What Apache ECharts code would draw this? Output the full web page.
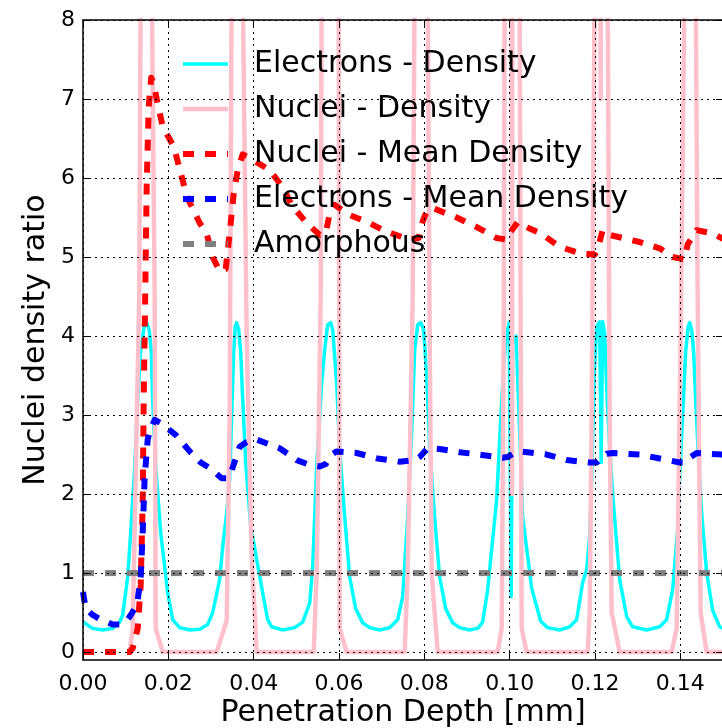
<!DOCTYPE html>
<html><head><meta charset="utf-8">
<script src="https://cdn.jsdelivr.net/npm/echarts@6/dist/echarts.min.js"></script>
<style>html,body{margin:0;padding:0;background:#fff;}#c{width:722px;height:728px;}</style>
</head><body><div id="c"></div>
<script>
const FONT = 'DejaVu Sans';
const seriesNames = ['Electrons - Density', 'Nuclei - Density', 'Nuclei - Mean Density', 'Electrons - Mean Density', 'Amorphous'];
const xTickStep = 0.02;
const yTickStep = 1;

// [depth (mm), ratio]
const electronDensity = [
[0,0.38],[0.002273,0.30],[0.004617,0.28],[0.006960,0.30],[0.008601,0.38],[0.009304,0.47],[0.010476,0.95],[0.011179,1.51],[0.012116,2.35],[0.012820,3.19],[0.013523,3.83],[0.014343,4.12],[0.014929,4.17],[0.015515,4.08],[0.015983,3.83],[0.016335,3.19],[0.017038,2.35],[0.018210,1.51],[0.019850,0.75],[0.021022,0.41],[0.022663,0.31],[0.025006,0.28],[0.027350,0.29],
[0.029225,0.35],[0.030396,0.50],[0.032037,0.92],[0.032740,1.33],[0.033678,1.76],[0.034381,2.19],[0.034849,3.0],[0.035318,3.8],[0.035670,4.12],[0.036021,4.17],[0.036490,4.08],[0.036959,3.8],[0.037427,3.2],[0.038130,2.4],[0.039302,1.6],[0.040708,1.17],[0.042115,0.75],[0.043286,0.41],[0.044224,0.32],[0.046802,0.28],[0.049613,0.31],[0.051489,0.38],
[0.053129,0.62],[0.053832,1.08],[0.054770,2.35],[0.055942,3.4],[0.056645,3.83],[0.057348,4.14],[0.058051,4.17],[0.058520,4.08],[0.059457,3.4],[0.060160,2.56],[0.061332,1.71],[0.062504,0.95],[0.063910,0.55],[0.065550,0.37],[0.067191,0.31],[0.069535,0.28],[0.071878,0.31],[0.073753,0.41],[0.074925,0.70],
[0.076097,1.71],[0.077034,2.77],[0.077737,3.83],[0.078440,4.14],[0.079143,4.17],[0.079846,4.08],[0.080550,3.5],[0.081253,2.6],[0.082424,1.7],[0.083596,0.95],[0.085002,0.55],[0.086643,0.37],[0.088283,0.31],[0.090627,0.28],[0.092502,0.30],[0.093674,0.38],
[0.094845,0.79],[0.095783,1.30],[0.096955,1.93],[0.097658,2.69],[0.098361,3.40],[0.099064,3.95],[0.099884,4.17],[0.100353,0.70],[0.100705,3.90],[0.101524,4.00],[0.102345,2.77],[0.103048,1.71],[0.105157,0.81],[0.107267,0.39],[0.108907,0.31],[0.111719,0.28],[0.114063,0.32],[0.115703,0.41],
[0.117110,0.88],[0.118047,1.05],[0.118750,1.46],[0.119219,2.18],[0.119805,3.50],[0.120390,4.12],[0.121094,4.18],[0.121445,2.40],[0.121797,4.18],[0.122265,4.04],[0.122851,3.20],[0.123437,2.60],[0.124140,2.00],[0.125781,0.92],[0.127421,0.45],[0.128828,0.32],[0.132109,0.28],[0.135155,0.32],[0.136796,0.41],[0.138202,0.79],[0.139374,1.55],
[0.139842,2.20],[0.140545,3.00],[0.141248,3.80],[0.141834,4.12],[0.142186,4.17],[0.142654,4.08],[0.143123,3.80],[0.143593,3.20],[0.144296,2.40],[0.144999,1.76],[0.146170,1.00],[0.147576,0.53],[0.149216,0.32],[0.15,0.30]
];

const nucleiDensity = [
[0.010945,0],[0.011648,0.3],[0.013171,4.5],[0.013523,8.5],[0.013616,45],[0.016007,45],[0.016101,8.5],[0.016804,4.5],[0.017038,0.3],[0.018679,0],
[0.031334,0],[0.033678,0.4],[0.034381,3.0],[0.034849,8.5],[0.034943,45],[0.037334,45],[0.037427,8.5],[0.038365,4.0],[0.039536,1.2],[0.040708,0],
[0.054067,0],[0.054770,1.0],[0.055707,4.5],[0.055942,8.5],[0.056035,45],[0.059832,45],[0.059926,8.5],[0.060043,4.5],[0.060160,0.3],[0.061801,0],
[0.075394,0],[0.076097,1.0],[0.077268,4.5],[0.077737,8.5],[0.077831,45],[0.080690,45],[0.080784,8.5],[0.081253,4.0],[0.081721,1.0],[0.083128,0],
[0.097189,0],[0.098127,0.3],[0.098595,4.0],[0.098830,8.5],[0.098923,45],[0.100001,45],[0.100540,2.0],[0.101056,45],[0.102251,45],[0.102345,8.5],[0.102579,4.0],[0.102814,0.3],[0.103985,0],
[0.118281,0],[0.118750,0.5],[0.119219,3.0],[0.119922,8.5],[0.120016,45],[0.120742,45],[0.121328,7.0],[0.121914,45],[0.122875,45],[0.122969,8.5],[0.123437,3.0],[0.123906,0.5],[0.125781,0],
[0.137968,0],[0.139139,0.3],[0.140077,4.0],[0.141014,8.5],[0.141108,45],[0.143499,45],[0.143593,8.5],[0.144061,4.5],[0.144764,0.5],[0.146170,0],[0.15,0]
];

const nucleiMeanDensity = [
[0,0],[0.010945,0],[0.011648,0.05],[0.012820,0.3],[0.013523,0.85],[0.013991,1.9],[0.014226,3.2],[0.014577,4.5],[0.014929,5.9],[0.015397,6.9],[0.015983,7.27],[0.016569,7.2],[0.017272,7.0],[0.018679,6.65],[0.020319,6.49],[0.021256,6.4],[0.023131,6.02],[0.024303,5.77],[0.027350,5.43],[0.028990,5.3],[0.030396,5.0],[0.032037,4.82],[0.033443,4.85],
[0.034381,5.3],[0.035318,5.8],[0.036255,6.1],[0.037427,6.3],[0.039771,6.23],[0.043755,6.1],[0.046567,5.9],[0.049145,5.64],[0.052426,5.43],[0.055473,5.28],[0.056879,5.3],
[0.057817,5.55],[0.058988,5.66],[0.062504,5.53],[0.066722,5.44],[0.071175,5.32],[0.076565,5.22],[0.078675,5.24],
[0.079612,5.45],[0.080550,5.58],[0.081956,5.62],[0.087580,5.5],[0.092267,5.38],[0.096955,5.24],[0.099298,5.22],
[0.100001,5.3],[0.101876,5.44],[0.104689,5.36],[0.107267,5.3],[0.111719,5.13],[0.116406,5.05],[0.119922,5.03],
[0.120625,5.1],[0.121797,5.34],[0.123437,5.28],[0.130468,5.19],[0.135155,5.11],[0.138202,5.0],[0.141014,4.97],
[0.141717,5.16],[0.143826,5.34],[0.147576,5.3],[0.15,5.23]
];

const electronMeanDensity = [
[0,0.76],[0.000633,0.55],[0.002273,0.47],[0.003914,0.42],[0.006960,0.35],[0.008601,0.35],[0.010007,0.38],[0.010945,0.45],[0.012116,0.55],[0.012820,0.66],[0.013523,0.95],[0.013991,1.51],[0.014460,2.22],[0.015163,2.69],[0.015632,2.79],[0.016804,2.94],[0.018210,2.9],[0.021725,2.75],[0.025006,2.54],[0.027584,2.4],[0.029693,2.33],[0.032506,2.2],[0.033912,2.2],
[0.034849,2.3],[0.035787,2.45],[0.036724,2.6],[0.038365,2.66],[0.040708,2.69],[0.046099,2.58],[0.050083,2.43],[0.053129,2.37],[0.055473,2.35],[0.056879,2.38],
[0.058285,2.5],[0.059457,2.54],[0.064144,2.52],[0.069066,2.45],[0.074222,2.41],[0.077737,2.43],[0.078909,2.47],
[0.080784,2.58],[0.083596,2.57],[0.088283,2.53],[0.092971,2.5],[0.098361,2.46],[0.099533,2.47],
[0.101173,2.52],[0.102345,2.54],[0.108673,2.5],[0.113360,2.43],[0.118750,2.4],[0.120390,2.4],
[0.121797,2.47],[0.122734,2.51],[0.124140,2.52],[0.130468,2.5],[0.135155,2.45],[0.139842,2.4],[0.141248,2.4],
[0.142186,2.46],[0.143826,2.52],[0.149685,2.5],[0.15,2.5]
];

const amorphous = [[0,1],[0.15,1]];

const chart = echarts.init(document.getElementById('c'), null, {renderer:'canvas'});
const dash = [11, 11];
const gridDots = {color:'#000', width:1, type:[2,4]};
const spine = {color:'#000', width:1.5};
function mk(name, data, color, width, type){
  return {name, type:'line', data, xAxisIndex:0, yAxisIndex:0, symbol:'none', showSymbol:false,
    clip:true, z:2, silent:true,
    lineStyle:{color, width, type, join:'round'}, itemStyle:{color}, emphasis:{disabled:true}};
}
chart.setOption({
  animation:false,
  backgroundColor:'#fff',
  grid:[
    {left:83, top:20, width:640, height:640, containLabel:false, outerBoundsMode:'none'},
    {left:83, top:20, width:640, height:632.1, containLabel:false, outerBoundsMode:'none'}
  ],
  legend:{
    data:seriesNames, orient:'vertical', left:175, top:44,
    itemWidth:45, itemHeight:14, itemGap:15,
    itemStyle:{opacity:0},
    lineStyle:{width:'inherit', type:'inherit'},
    textStyle:{fontSize:30, color:'#000', fontFamily:FONT, lineHeight:30, padding:[0,0,0,21]},
    selectedMode:false
  },
  xAxis:[
    {gridIndex:0, type:'value', min:0, max:0.15, interval:xTickStep, position:'bottom', z:10,
     axisLine:{show:true, onZero:false, lineStyle:spine},
     axisTick:{show:true, inside:true, length:7, lineStyle:{color:'#000', width:1}},
     axisLabel:{show:true, fontSize:22, color:'#000', fontFamily:FONT, margin:13,
       formatter:v => (Math.abs(v/xTickStep - Math.round(v/xTickStep)) < 1e-6 ? v.toFixed(2) : '')},
     splitLine:{show:true, lineStyle:gridDots},
     name:'Penetration Depth [mm]', nameLocation:'middle', nameGap:38, nameMoveOverlap:false,
     nameTextStyle:{fontSize:30, color:'#000', fontFamily:FONT}},
    {gridIndex:0, type:'value', min:0, max:0.15, interval:xTickStep, position:'top', z:10,
     axisLine:{show:true, onZero:false, lineStyle:spine},
     axisTick:{show:true, inside:true, length:7, lineStyle:{color:'#000', width:1}},
     axisLabel:{show:false}, splitLine:{show:false}},
    {gridIndex:1, type:'value', min:0, max:0.15, show:false}
  ],
  yAxis:[
    {gridIndex:0, type:'value', min:-0.1, max:8, interval:0.1, z:10,
     axisLine:{show:true, onZero:false, lineStyle:spine},
     axisTick:{show:false}, axisLabel:{show:false}, splitLine:{show:false},
     name:'Nuclei density ratio', nameLocation:'middle', nameGap:32, nameMoveOverlap:false,
     nameTextStyle:{fontSize:30, color:'#000', fontFamily:FONT}},
    {gridIndex:1, type:'value', min:0, max:8, interval:yTickStep, z:10,
     axisLine:{show:false},
     axisTick:{show:true, inside:true, length:7, lineStyle:{color:'#000', width:1}},
     axisLabel:{show:true, fontSize:22, color:'#000', fontFamily:FONT, margin:8},
     splitLine:{show:true, lineStyle:gridDots}},
    {gridIndex:1, type:'value', min:0, max:8, interval:yTickStep, position:'right', z:10,
     axisLine:{show:false},
     axisTick:{show:true, inside:true, length:7, lineStyle:{color:'#000', width:1}},
     axisLabel:{show:false}, splitLine:{show:false}}
  ],
  series:[
    mk(seriesNames[0], electronDensity, '#00FFFF', 3.5, 'solid'),
    mk(seriesNames[1], nucleiDensity, '#FFC0CB', 4.5, 'solid'),
    mk(seriesNames[2], nucleiMeanDensity, '#FF0000', 6, dash),
    mk(seriesNames[3], electronMeanDensity, '#0000FF', 6, dash),
    mk(seriesNames[4], amorphous, '#808080', 6, dash)
  ]
});
</script>
</body></html>
